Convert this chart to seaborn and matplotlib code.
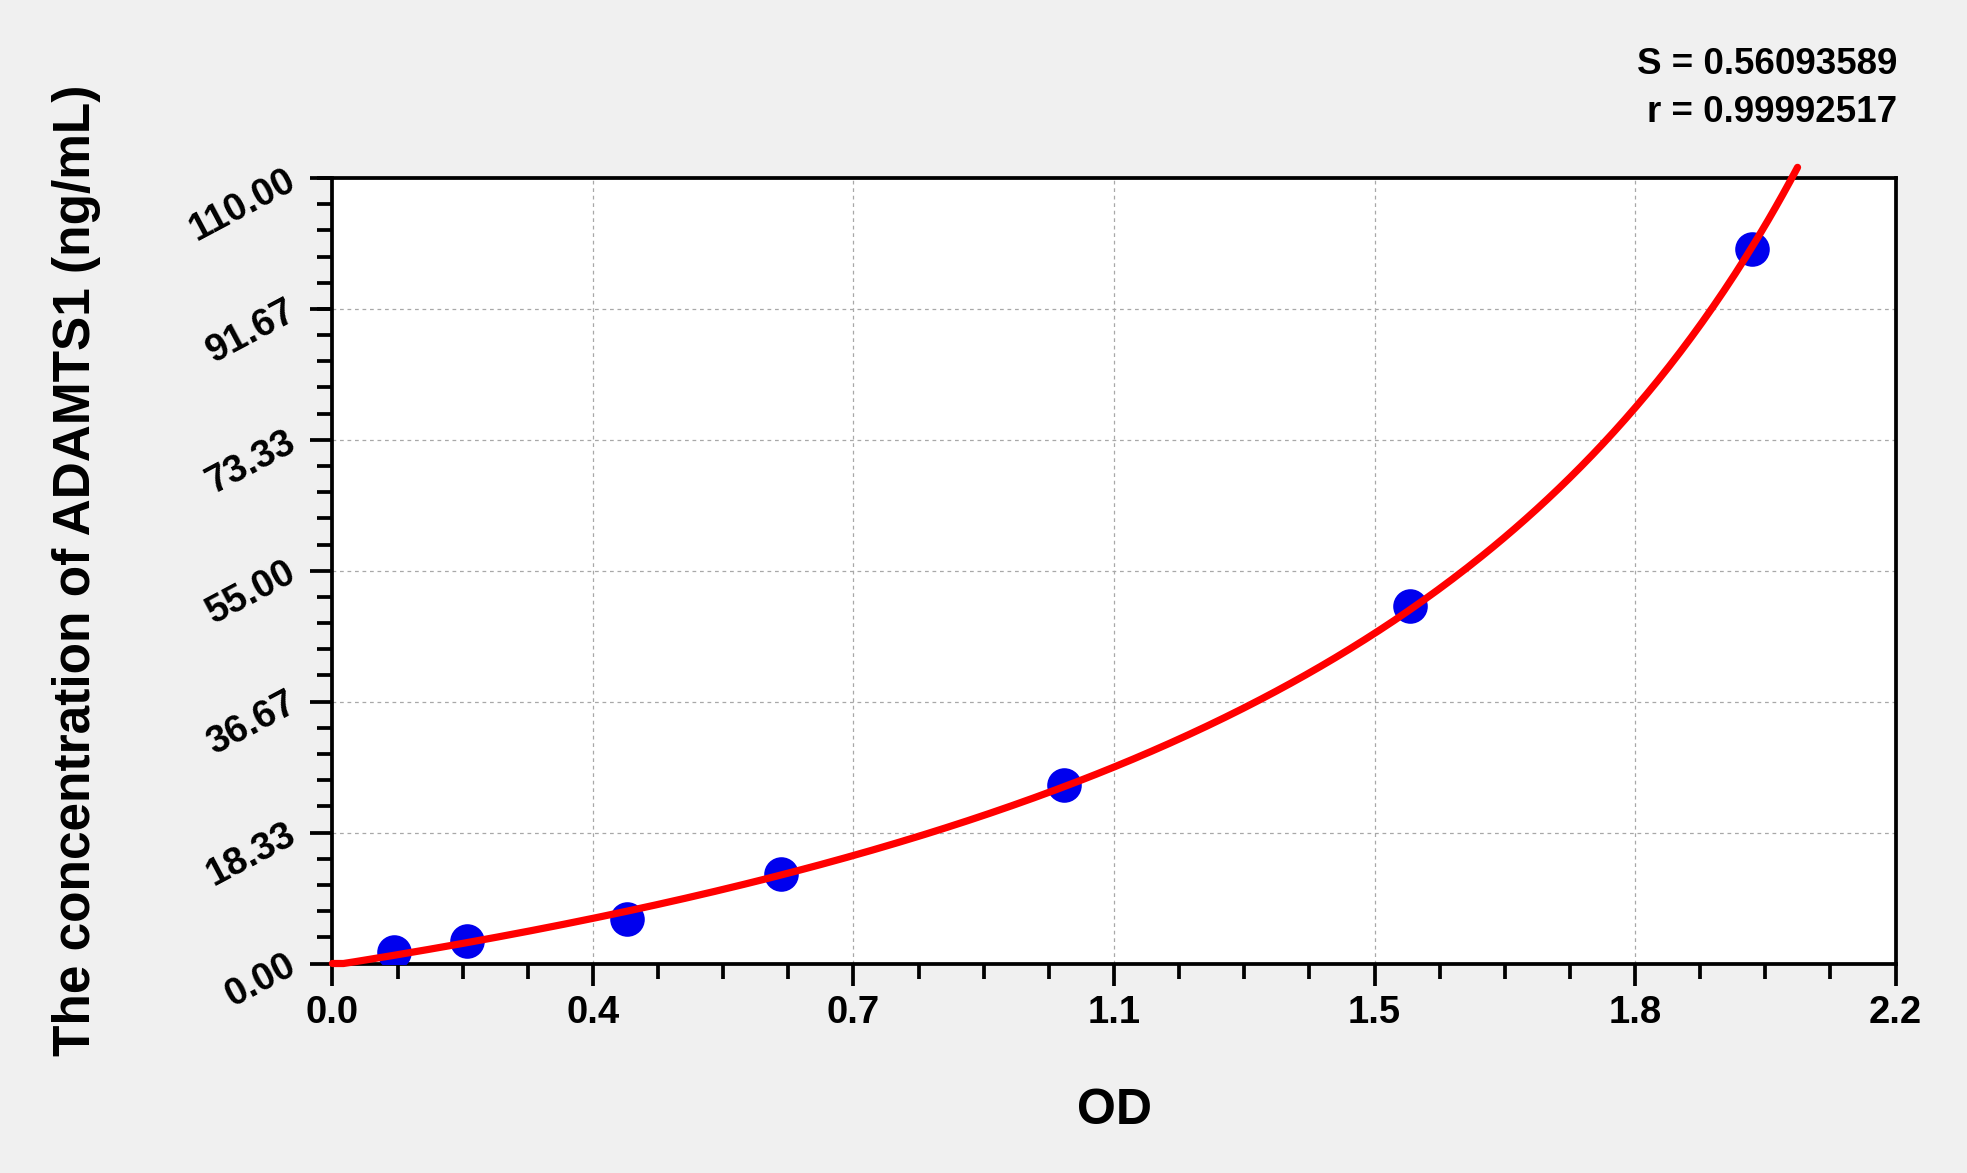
import matplotlib
matplotlib.use("Agg")
import matplotlib.pyplot as plt
import numpy as np
import pandas as pd
import seaborn as sns
from matplotlib.ticker import AutoMinorLocator, FixedLocator

# standard points (OD -> concentration)
od = [0.087, 0.190, 0.414, 0.631, 1.030, 1.517, 1.998]
conc = [1.5625, 3.125, 6.25, 12.5, 25.0, 50.0, 100.0]
od_end = 2.062  # where the drawn fit line stops

x_ticks = [0.0, 0.36667, 0.73333, 1.1, 1.46667, 1.83333, 2.2]
x_tick_labels = ["0.0", "0.4", "0.7", "1.1", "1.5", "1.8", "2.2"]
y_ticks = [0.0, 18.333, 36.667, 55.0, 73.333, 91.667, 110.0]
y_tick_labels = ["0.00", "18.33", "36.67", "55.00", "73.33", "91.67", "110.00"]

fit_s = "S = 0.56093589"
fit_r = "r = 0.99992517"

df = pd.DataFrame({"OD": od, "conc": conc})

# logistic standard curve OD = (a*c + d*C) / (c + C), linearised:
# C*OD = d*C - c*OD + a*c  -> least squares, then invert for C(OD)
X = df["OD"].to_numpy()
C = df["conc"].to_numpy()
A = np.column_stack([C, -X, np.ones_like(X)])
d, c, ac = np.linalg.lstsq(A, C * X, rcond=None)[0]
a = ac / c
fit_x = np.linspace(0, od_end, 400)
fit_y = np.clip(c * (fit_x - a) / (d - fit_x), 0, None)

sns.set_style("ticks")
plt.rcParams["font.family"] = ["Liberation Sans", "DejaVu Sans"]
plt.rcParams["font.weight"] = "bold"
plt.rcParams["text.color"] = "black"
plt.rcParams["axes.labelcolor"] = "black"
plt.rcParams["xtick.color"] = "black"
plt.rcParams["ytick.color"] = "black"

fig = plt.figure(figsize=(19.67, 11.73), dpi=100, facecolor="#f0f0f0")
ax = fig.add_axes([0.169, 0.1786, 0.7947, 0.6697])
ax.set_facecolor("white")

sns.scatterplot(data=df, x="OD", y="conc", s=620, color="#0000ee", linewidth=0, zorder=3, ax=ax)
sns.lineplot(x=fit_x, y=fit_y, estimator=None, color="#ff0000", lw=5.2, zorder=4,
             clip_on=False, ax=ax)

ax.set_xlim(0, 2.2)
ax.set_ylim(0, 110)

ax.xaxis.set_major_locator(FixedLocator(x_ticks))
ax.set_xticklabels(x_tick_labels)
ax.yaxis.set_major_locator(FixedLocator(y_ticks))
ax.set_yticklabels(y_tick_labels)
ax.xaxis.set_minor_locator(AutoMinorLocator(4))
ax.yaxis.set_minor_locator(AutoMinorLocator(5))

ax.tick_params(which="major", length=16, width=2.7, colors="black", labelsize=27.5)
ax.tick_params(which="minor", length=11, width=2.7, colors="black")
ax.tick_params(axis="x", which="major", pad=7)
ax.tick_params(axis="y", which="major", pad=12)
for lbl in ax.get_yticklabels():
    lbl.set_rotation(28)
    lbl.set_rotation_mode("anchor")
    lbl.set_horizontalalignment("right")
    lbl.set_verticalalignment("center")

for sp in ax.spines.values():
    sp.set_visible(True)
    sp.set_color("black")
    sp.set_linewidth(2.7)

ax.grid(True, which="major", color="#a8a8a8", lw=0.9, linestyle=(0, (3, 3)))
ax.set_axisbelow(True)

ax.set_xlabel("OD", fontsize=36, fontweight="bold", va="center")
ax.xaxis.set_label_coords(0.5, -0.1878)
ax.set_ylabel("The concentration of ADAMTS1 (ng/mL)", fontsize=37, fontweight="bold", va="center")
ax.yaxis.set_label_coords(-0.164, 0.5)

fig.text(1897 / 1967, 1 - 64 / 1173, fit_s, ha="right", va="center", fontsize=26.5, fontweight="bold")
fig.text(1897 / 1967, 1 - 113 / 1173, fit_r, ha="right", va="center", fontsize=26.5, fontweight="bold")

fig.savefig("out.png", dpi=100, facecolor=fig.get_facecolor())
